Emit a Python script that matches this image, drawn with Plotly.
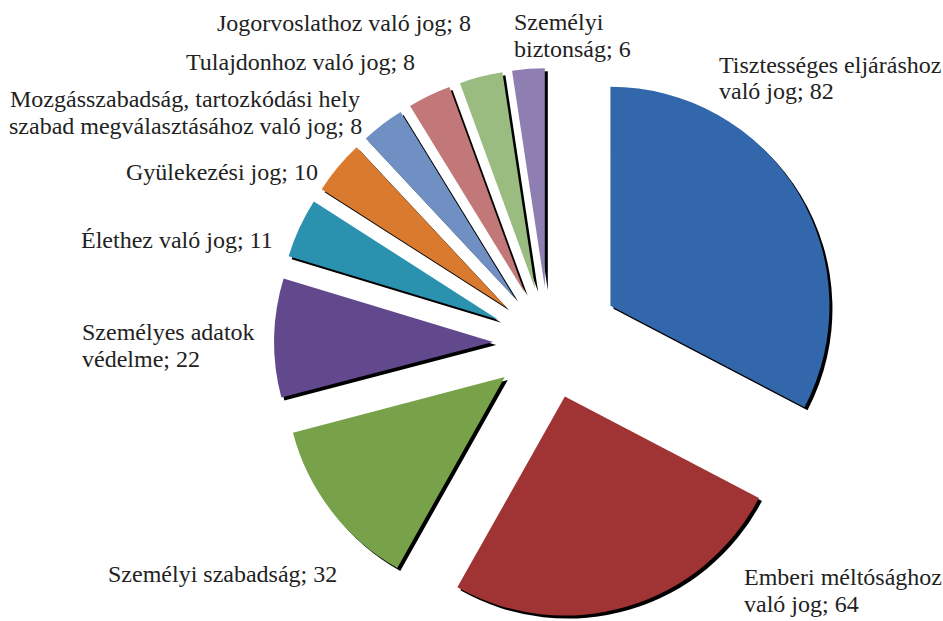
import math
import plotly.graph_objects as go

W, H = 943, 621

categories = [
    "Tisztességes eljáráshoz való jog",
    "Emberi méltósághoz való jog",
    "Személyi szabadság",
    "Személyes adatok védelme",
    "Élethez való jog",
    "Gyülekezési jog",
    "Mozgásszabadság, tartozkódási hely szabad megválasztásához való jog",
    "Tulajdonhoz való jog",
    "Jogorvoslathoz való jog",
    "Személyi biztonság",
]
values = [82, 64, 32, 22, 11, 10, 8, 8, 8, 6]
# how each data label is wrapped onto lines
label_lines = [
    ["Tisztességes eljáráshoz", "való jog"],
    ["Emberi méltósághoz", "való jog"],
    ["Személyi szabadság"],
    ["Személyes adatok", "védelme"],
    ["Élethez való jog"],
    ["Gyülekezési jog"],
    ["Mozgásszabadság, tartozkódási hely", "szabad megválasztásához való jog"],
    ["Tulajdonhoz való jog"],
    ["Jogorvoslathoz való jog"],
    ["Személyi", "biztonság"],
]
colors = ["#3367AC", "#A03434", "#78A24A", "#62498E", "#2A92AE",
          "#DA7A2E", "#7090C4", "#C27878", "#9ABC80", "#8E7EB2"]

# ---- geometry (pixels) ----
CX, CY = 549, 343          # pie centre
R = 219                    # pie radius
PULL = 0.255               # explosion of every slice
EXTRA = 16                 # first slice is exploded a bit further (px)
SH = 3                     # drop-shadow offset (px)
HALF = R * (1 + PULL)
CLEAR = "rgba(0,0,0,0)"


def dom(dx=0.0, dy=0.0):
    left = CX - HALF + dx
    top = CY - HALF + dy
    return dict(x=[max(0, left / W), min(1, (left + 2 * HALF) / W)],
                y=[max(0, 1 - (top + 2 * HALF) / H), min(1, 1 - top / H)])


theta = math.pi * values[0] / sum(values)   # bisector of first slice
ex, ey = EXTRA * math.sin(theta), -EXTRA * math.cos(theta)

first_only = [colors[0]] + [CLEAR] * (len(values) - 1)
rest_only = [CLEAR] + colors[1:]
black_first = ["#000000"] + [CLEAR] * (len(values) - 1)
black_rest = [CLEAR] + ["#000000"] * (len(values) - 1)


def pie(cols, domain, hover=True):
    return go.Pie(
        labels=categories, values=values, sort=False, direction="clockwise",
        rotation=0, pull=[PULL] * len(values),
        marker=dict(colors=cols, line=dict(width=0)),
        textinfo="none", hoverinfo="label+value" if hover else "skip",
        showlegend=False, domain=domain,
    )


fig = go.Figure()
fig.add_trace(pie(black_rest, dom(SH, SH), hover=False))
fig.add_trace(pie(black_first, dom(ex + SH, ey + SH), hover=False))
fig.add_trace(pie(rest_only, dom()))
fig.add_trace(pie(first_only, dom(ex, ey)))

# label placement: x (px), baseline of first line (px), anchor
label_pos = [
    (718, 73, "left"),
    (743, 585, "left"),
    (338, 582, "right"),
    (81, 340, "left"),
    (274, 248, "right"),
    (319, 180, "right"),
    (185, 107, "center"),
    (416, 70, "right"),
    (472, 31, "right"),
    (513, 30, "left"),
]
LINE = 26.5
FS = 24
for lines, val, (x, base, xa) in zip(label_lines, values, label_pos):
    for k, line in enumerate(lines):
        txt = line + (f"; {val}" if k == len(lines) - 1 else "")
        yb = base + k * LINE
        fig.add_annotation(
            text=txt, x=x / W, y=1 - (yb - 8) / H, xref="paper", yref="paper",
            xanchor=xa, yanchor="middle", showarrow=False, borderpad=0,
            font=dict(family="Liberation Serif", size=FS, color="#222222"),
        )

fig.update_layout(
    width=W, height=H, margin=dict(l=0, r=0, t=0, b=0),
    paper_bgcolor="white", plot_bgcolor="white", showlegend=False,
)
fig.write_html("out.html", config={"displayModeBar": False},
               post_script="document.body.style.margin='0';")
